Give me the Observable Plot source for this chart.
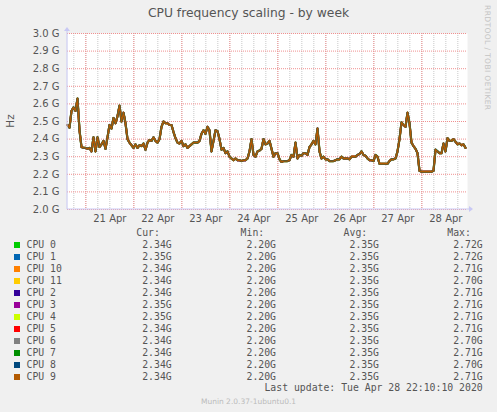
<!DOCTYPE html>
<html>
<head>
<meta charset="utf-8">
<script src="https://cdn.jsdelivr.net/npm/d3@7"></script>
<script src="https://cdn.jsdelivr.net/npm/@observablehq/plot@0.6"></script>
<style>
  html, body { margin: 0; padding: 0; background: #f0f0f0; }
  #wrap { position: relative; width: 497px; height: 412px; background: #f0f0f0; overflow: hidden; font-family: "DejaVu Sans", sans-serif; color: #555; }
  .abs { position: absolute; white-space: pre; }
  .mono { font-family: "DejaVu Sans Mono", monospace; font-size: 9.8px; line-height: 12px; color: #555; }
  #chart { position: absolute; left: 0; top: 0; }
</style>
</head>
<body>
<div id="wrap">
  <div id="chart"></div>
</div>
<script>
// ---------- data ----------
const title = "CPU frequency scaling - by week";
const yLabel = "Hz";
const cpuNames = ["CPU 0","CPU 1","CPU 10","CPU 11","CPU 2","CPU 3","CPU 4","CPU 5","CPU 6","CPU 7","CPU 8","CPU 9"];
const cpuColors = ["#00cc00","#0066b3","#ff8000","#ffcc00","#330099","#990099","#ccff00","#ff0000","#808080","#008f00","#00487d","#b35a00"];
const curVals = ["2.34G","2.35G","2.34G","2.34G","2.34G","2.35G","2.35G","2.34G","2.34G","2.34G","2.34G","2.34G"];
const minVals = ["2.20G","2.20G","2.20G","2.20G","2.20G","2.20G","2.20G","2.20G","2.20G","2.20G","2.20G","2.20G"];
const avgVals = ["2.35G","2.35G","2.35G","2.35G","2.35G","2.35G","2.35G","2.35G","2.35G","2.35G","2.35G","2.35G"];
const maxVals = ["2.72G","2.72G","2.71G","2.70G","2.71G","2.71G","2.71G","2.71G","2.70G","2.71G","2.70G","2.71G"];
const yTicksG = [2.0, 2.1, 2.2, 2.3, 2.4, 2.5, 2.6, 2.7, 2.8, 2.9, 3.0];
const lastUpdate = "Last update: Tue Apr 28 22:10:10 2020";
const footer = "Munin 2.0.37-1ubuntu0.1";
const sideText = "RRDTOOL / TOBI OETIKER";
// hourly frequency (GHz), shared by all CPUs (they overlap in the picture), from 2020-04-20 14:50 UTC
const startTime = Date.UTC(2020, 3, 20, 14, 50);
const hoursSpan = 200;
const freq = [
  2.48, 2.465, 2.56, 2.58, 2.56, 2.63, 2.45, 2.355, 2.35, 2.35,
  2.345, 2.35, 2.33, 2.41, 2.33, 2.41, 2.355, 2.37, 2.39, 2.345,
  2.41, 2.48, 2.46, 2.52, 2.49, 2.53, 2.59, 2.50, 2.55, 2.49,
  2.40, 2.38, 2.365, 2.35, 2.37, 2.35, 2.365, 2.36, 2.375, 2.34,
  2.38, 2.395, 2.39, 2.41, 2.39, 2.38, 2.40, 2.47, 2.50, 2.49,
  2.49, 2.48,
  2.48, 2.44, 2.405, 2.38, 2.375, 2.39, 2.36, 2.37, 2.35, 2.36,
  2.37, 2.38, 2.38, 2.38, 2.39, 2.43, 2.45, 2.43, 2.47, 2.45,
  2.33, 2.39, 2.45, 2.445, 2.40, 2.34, 2.35, 2.32, 2.33, 2.30,
  2.29, 2.28, 2.29, 2.28, 2.28, 2.275, 2.28, 2.28, 2.29, 2.33,
  2.40, 2.31, 2.30, 2.33, 2.335, 2.345, 2.40, 2.37, 2.375,
  2.39, 2.345, 2.30, 2.32, 2.32, 2.285, 2.27, 2.275, 2.275, 2.275,
  2.28, 2.31, 2.30, 2.38, 2.29, 2.31, 2.305, 2.32, 2.32, 2.31,
  2.355, 2.37, 2.39, 2.37, 2.46, 2.33, 2.29, 2.30, 2.285, 2.285,
  2.275, 2.275, 2.275, 2.28, 2.285, 2.285, 2.30, 2.29, 2.29, 2.29,
  2.285, 2.30, 2.30, 2.30, 2.31, 2.315, 2.33, 2.31, 2.305, 2.29,
  2.28,
  2.28, 2.275, 2.31, 2.30, 2.26, 2.26, 2.26, 2.26, 2.26, 2.275,
  2.285, 2.285, 2.29, 2.33, 2.40, 2.495, 2.48, 2.47, 2.55, 2.49,
  2.38, 2.36, 2.345, 2.32, 2.22, 2.215, 2.215, 2.215, 2.215, 2.215,
  2.215, 2.22, 2.34, 2.33, 2.32, 2.32, 2.375, 2.33, 2.405, 2.39,
  2.39, 2.40, 2.385, 2.37, 2.375, 2.365, 2.37, 2.35
];

// ---------- build ----------
const HOUR = 3600e3;
const start = new Date(startTime);
const end = new Date(startTime + hoursSpan * HOUR);
const rows = cpuNames.flatMap(cpu => freq.map((v, i) => ({cpu, t: new Date(startTime + i * HOUR), v: v * 1e9})));
const minorTicks = d3.utcHour.every(6).range(start, end);
const dayTicks = d3.utcDay.range(start, end);
const noonTicks = dayTicks.map(d => new Date(+d + 12 * HOUR)).filter(d => d < end);
const yTicks = yTicksG.map(g => g * 1e9);

const M = {left: 67, right: 30, top: 33, bottom: 21};
const W = 497, H = 230;
const axisColor = "#c8c8f4";
// earlier-drawn series slightly wider so their colours fringe the overlapping bundle
const widthOf = cpu => 2.2 - 0.07 * cpuNames.indexOf(cpu);

const chart = Plot.plot({
  width: W, height: H,
  marginLeft: M.left, marginRight: M.right, marginTop: M.top, marginBottom: M.bottom,
  style: {background: "transparent", fontFamily: "DejaVu Sans", fontSize: "10px", color: "#555", overflow: "visible"},
  x: {type: "utc", domain: [start, end], label: null, ticks: noonTicks, tickFormat: d3.utcFormat("%d %b"), tickSize: 0, tickPadding: 5},
  y: {domain: [2e9, 3e9], label: null, ticks: yTicks, tickFormat: d => (d / 1e9).toFixed(1) + " G", tickSize: 0, tickPadding: 8},
  color: {domain: cpuNames, range: cpuColors},
  marks: [
    Plot.frame({fill: "white", stroke: "none"}),
    Plot.ruleX(minorTicks, {stroke: "#c8c8c8", strokeDasharray: "1,1"}),
    Plot.ruleX(dayTicks, {stroke: "#f09090", strokeDasharray: "1,1"}),
    Plot.ruleY(yTicks, {stroke: "#f09090", strokeDasharray: "1,1"}),
    ...cpuNames.map(cpu => Plot.line(rows.filter(r => r.cpu === cpu), {x: "t", y: "v", stroke: "cpu", strokeWidth: widthOf(cpu)}))
  ]
});
document.getElementById("chart").appendChild(chart);

// axis lines with arrows (decoration)
const svg = d3.select(chart);
const x0 = M.left, y0 = H - M.bottom, x1 = W - M.right, yTop = M.top;
svg.append("path").attr("d", `M${x0},${y0}H${x1 + 3}`).attr("stroke", axisColor).attr("fill", "none");
svg.append("path").attr("d", `M${x0},${y0}V${yTop - 3}`).attr("stroke", axisColor).attr("fill", "none");
svg.append("path").attr("d", `M${x1 + 2},${y0 - 3}L${x1 + 6},${y0}L${x1 + 2},${y0 + 3}Z`).attr("fill", axisColor);
svg.append("path").attr("d", `M${x0 - 3},${yTop - 2}L${x0},${yTop - 6}L${x0 + 3},${yTop - 2}Z`).attr("fill", axisColor);

// ---------- text around the chart ----------
const wrap = document.getElementById("wrap");
function addDiv(text, css, cls) {
  const d = document.createElement("div");
  d.className = "abs " + (cls || "");
  d.textContent = text;
  Object.assign(d.style, css);
  wrap.appendChild(d);
  return d;
}
addDiv(title, {left: "0px", width: W + "px", textAlign: "center", top: "5px", fontSize: "12.3px", lineHeight: "16px", color: "#555"});
addDiv(yLabel, {left: "2px", top: "113px", width: "16px", height: "16px", lineHeight: "16px", textAlign: "center", fontSize: "10.5px", transform: "rotate(-90deg)", color: "#555"});
addDiv(sideText, {left: "482px", top: "5px", writingMode: "vertical-rl", fontSize: "7.6px", letterSpacing: "0.35px", color: "#c4c4c4", lineHeight: "10px"});

// legend
const colRight = [171.7, 276, 379, 482.7];
const headers = ["Cur:", "Min:", "Avg:", "Max:"];
const charW = 5.9;
headers.forEach((h, j) => {
  addDiv(h, {right: (W - colRight[j] + 2 * charW) + "px", top: (233 - 6) + "px"}, "mono");
});
cpuNames.forEach((name, i) => {
  const cy = 244.6 + 12 * i;
  const sq = document.createElement("div");
  Object.assign(sq.style, {position: "absolute", left: "14px", top: (cy - 3) + "px", width: "6px", height: "6px", background: cpuColors[i]});
  wrap.appendChild(sq);
  addDiv(name, {left: "26.5px", top: (cy - 6) + "px"}, "mono");
  [curVals, minVals, avgVals, maxVals].forEach((arr, j) => {
    addDiv(arr[i], {right: (W - colRight[j]) + "px", top: (cy - 6) + "px"}, "mono");
  });
});
addDiv(lastUpdate, {right: (W - 482.7) + "px", top: (388.4 - 6) + "px"}, "mono");
addDiv(footer, {left: "0px", width: W + "px", textAlign: "center", top: (401.7 - 5) + "px", fontSize: "7.5px", lineHeight: "10px", color: "#bbbbbb"});
</script>
</body>
</html>
